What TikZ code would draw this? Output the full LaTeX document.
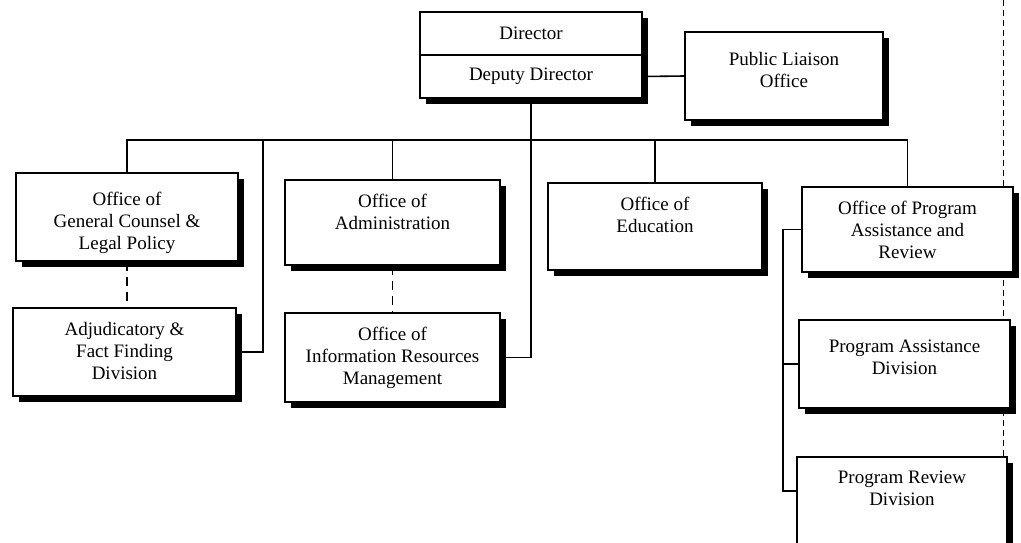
\documentclass[tikz,border=0pt]{standalone}
\usepackage{fontspec}
\setmainfont{Liberation Serif}
\usetikzlibrary{positioning,shadows}

\tikzset{
  orgbox/.style={draw, fill=white, line width=1.6pt, inner sep=0pt,
    drop shadow={shadow xshift=6pt, shadow yshift=-6pt, fill=black, opacity=1}},
  boxtext/.style={anchor=north, align=center, inner sep=0pt, yshift=-15pt},
  link/.style={line width=1.6pt},
  dashlink/.style={line width=1.2pt, dash pattern=on 9pt off 6pt}
}

\begin{document}
\begin{tikzpicture}[x=1pt, y=-1pt, font=\fontsize{19}{22}\selectfont]
    \clip (0,0) rectangle (1021,542);
    % divider on the right
    \draw[line width=0.9pt, dash pattern=on 6pt off 4pt] (1003,0) -- (1003,542);

    % top
    \node[orgbox, minimum width=222, minimum height=43] (dir) at (531,33.5) {Director};
    \node[orgbox, minimum width=222, minimum height=43] (dep) at (531,76.5) {Deputy Director};
    \node[orgbox, minimum width=198, minimum height=88,
      label={[boxtext, yshift=-6pt]north:{Public Liaison\\Office}}] (plo) at (784,76) {};

    % offices
    \node[orgbox, minimum width=222, minimum height=88,
      label={[boxtext, yshift=-5pt]north:{Office of\\General Counsel \&\\Legal Policy}}] (ogc) at (127,217) {};
    \node[orgbox, minimum width=223, minimum height=88,
      label={[boxtext]north:{Adjudicatory \&\\Fact Finding\\Division}}] (adj) at (124.5,352) {};
    \node[orgbox, minimum width=215, minimum height=85,
      label={[boxtext]north:{Office of\\Administration}}] (adm) at (392.5,222.5) {};
    \node[orgbox, minimum width=215, minimum height=89,
      label={[boxtext]north:{Office of\\Information Resources\\Management}}] (irm) at (392.5,357.5) {};
    \node[orgbox, minimum width=214, minimum height=87,
      label={[boxtext]north:{Office of\\Education}}] (edu) at (655,226.5) {};
    \node[orgbox, minimum width=211, minimum height=85,
      label={[boxtext]north:{Office of Program\\Assistance and\\Review}}] (opar) at (907.5,229.5) {};
    \node[orgbox, minimum width=211, minimum height=88,
      label={[boxtext, yshift=-6pt]north:{Program Assistance\\Division}}] (pad) at (904.5,364) {};
    \node[orgbox, minimum width=210, minimum height=92,
      label={[boxtext]north:{Program Review\\Division}}] (prd) at (902,503) {};

    % connectors
    \coordinate (bus) at (0,140);
    \coordinate (adjdrop) at (263,140);
    \coordinate (brk) at (783,0);
    \coordinate (prdjoin) at ([yshift=-35pt]prd.north west);

    \draw[link] (dep.east) -- (plo.west);
    \draw[link] (dep.south) |- (irm.east);
    \draw[link] (ogc.north) -- (ogc.north |- bus) -- (opar.north |- bus) -- (opar.north);
    \draw[link] (adjdrop) |- (adj.east);
    \draw[link] (adm.north) -- (adm.north |- bus);
    \draw[link] (edu.north) -- (edu.north |- bus);
    \draw[dashlink] (ogc.south) -- (ogc.south |- adj.north);
    \draw[dashlink] (adm.south) -- (irm.north);
    \draw[link] (opar.west) -| (brk |- prdjoin) -- (prdjoin);
    \draw[link] (brk |- pad.west) -- (pad.west);
\end{tikzpicture}
\end{document}
